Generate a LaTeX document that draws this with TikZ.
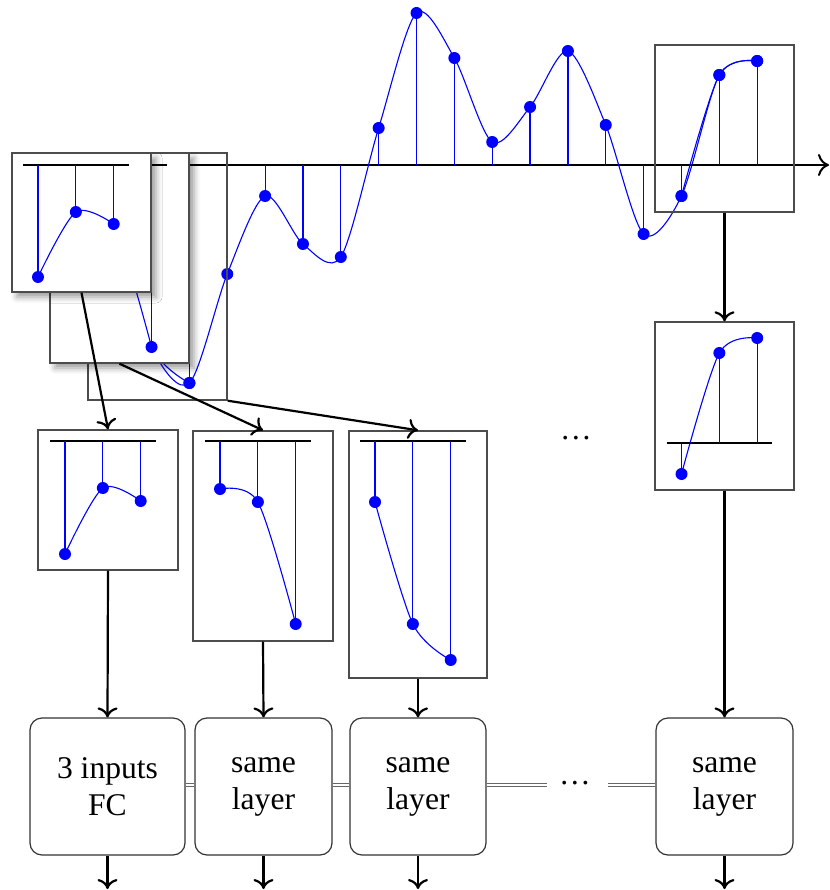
\documentclass[tikz,border=0pt]{standalone}
\usepackage{fontspec}
\setmainfont{Liberation Serif}
\usetikzlibrary{arrows.meta,shadows.blur}

% one window of three samples: first sample x, axis y, three dot y values
\newcommand{\sigwin}[5]{%
  \draw[winaxis] ({#1-15},#2) -- ({#1+90.7},#2);
  \draw[sig] plot[smooth] coordinates {(#1,#3) ({#1+37.85},#4) ({#1+75.7},#5)};
  \foreach \dx/\dy in {0/#3,37.85/#4,75.7/#5}{
    \draw[stem] ({#1+\dx},#2) -- ({#1+\dx},\dy);
    \fill[blue] ({#1+\dx},\dy) circle (6);
  }%
}

\begin{document}
\begin{tikzpicture}[x=1pt,y=-1pt,
  frame/.style={draw=black!70, line width=1.4pt, rectangle, inner sep=0pt,
    minimum width=139pt},
  shadowed/.style={frame, fill=white,
    blur shadow={shadow xshift=5pt, shadow yshift=-5pt, shadow blur radius=6pt}},
  sig/.style={blue, line width=1.1pt},
  stem/.style={blue, line width=1.2pt},
  winaxis/.style={black, line width=2.8pt},
  axisline/.style={black, line width=2pt,
    -{Computer Modern Rightarrow[length=11pt,width=22pt]}},
  conn/.style={black, line width=2.2pt,
    -{Computer Modern Rightarrow[length=10pt,width=20pt]}},
  layer/.style={draw=black!80, line width=1.2pt, rounded corners=12pt,
    minimum height=137pt, align=center, inner sep=0pt,
    font=\fontsize{31.6}{37}\selectfont},
  link/.style={draw=black!60, line width=1pt, double=white, double distance=2pt},
  dotsnode/.style={font=\fontsize{31.6}{37}\selectfont, inner sep=0pt}
]
\useasboundingbox (0,0) rectangle (829,890);

% time axis
\coordinate (ax0) at (24,165);
\coordinate (ax1) at (829,165);
\draw[axisline] (ax0) -- (ax1);

% the sampled signal
\draw[sig] plot[smooth] coordinates {
  (38,277) (75.85,212) (113.7,224) (151.55,347) (189.4,383) (227.25,274)
  (265.1,196) (302.95,244) (340.8,257) (378.65,128) (416.5,13) (454.35,58)
  (492.2,142) (530.05,107) (567.9,51) (605.75,125) (643.6,234) (681.45,196)
  (719.3,75) (757.15,61)};
\foreach \px/\py in {38/277,75.85/212,113.7/224,151.55/347,189.4/383,
  227.25/274,265.1/196,302.95/244,340.8/257,378.65/128,416.5/13,454.35/58,
  492.2/142,530.05/107,567.9/51,605.75/125,643.6/234,681.45/196,719.3/75,
  757.15/61}{
  \draw[stem] (\px,165) -- (\px,\py);
  \fill[blue] (\px,\py) circle (6);
}

% sliding windows over the signal
\node[frame, minimum height=247pt] (w3) at (157.5,276.5) {};
\sigwin{113.7}{165}{224}{347}{383}
\node[shadowed, minimum height=210pt] (w2) at (119.5,258) {};
\sigwin{75.85}{165}{212}{224}{347}
\node[shadowed, minimum height=139pt] (w1) at (81.5,222.5) {};
\sigwin{38}{165}{277}{212}{224}
\node[frame, minimum height=167pt] (w20) at (724.5,128.5) {};
\sigwin{681.45}{165}{196}{75}{61}

% extracted windows
\node[frame, minimum width=140pt, minimum height=140pt] (b1) at (108,500) {};
\sigwin{65}{441}{554}{488}{501}
\node[frame, minimum width=140pt, minimum height=210pt] (b2) at (263,536) {};
\sigwin{220}{441}{489}{502}{624}
\node[frame, minimum width=138pt, minimum height=247pt] (b3) at (418,554.5) {};
\sigwin{375}{441}{502}{624}{660}
\node[frame, minimum height=168pt] (b4) at (724.5,406) {};
\sigwin{681.5}{443}{474}{353}{338}
\node[dotsnode] (bdots) at (576,438) {\dots};

% shared layers
\node[layer, minimum width=155pt] (l1) at (107.5,786.5) {3 inputs\\FC};
\node[layer, minimum width=137pt] (l2) at (263.5,786.5) {same\\layer};
\node[layer, minimum width=136pt] (l3) at (418,786.5) {same\\layer};
\node[layer, minimum width=137pt] (l4) at (724.5,786.5) {same\\layer};
\node[dotsnode] (ldots) at (575,783) {\dots};
\coordinate (lk1) at (547,785);
\coordinate (lk2) at (608,785);
\draw[link] (l1.east |- 0,785) -- (l2.west |- 0,785);
\draw[link] (l2.east |- 0,785) -- (l3.west |- 0,785);
\draw[link] (l3.east |- 0,785) -- (lk1);
\draw[link] (lk2) -- (l4.west |- 0,785);

% connectors
\draw[conn] (w1.south) -- (b1.north);
\draw[conn] (w2.south) -- (b2.north);
\draw[conn] (w3.south east) -- (b3.north);
\draw[conn] (w20.south) -- (b4.north);
\draw[conn] (b1.south) -- (l1.north);
\draw[conn] (b2.south) -- (l2.north);
\draw[conn] (b3.south) -- (l3.north);
\draw[conn] (b4.south) -- (l4.north);
\coordinate (o1) at (107.5,889);
\coordinate (o2) at (263.5,889);
\coordinate (o3) at (418,889);
\coordinate (o4) at (724.5,889);
\draw[conn] (l1.south) -- (o1);
\draw[conn] (l2.south) -- (o2);
\draw[conn] (l3.south) -- (o3);
\draw[conn] (l4.south) -- (o4);
\end{tikzpicture}
\end{document}
